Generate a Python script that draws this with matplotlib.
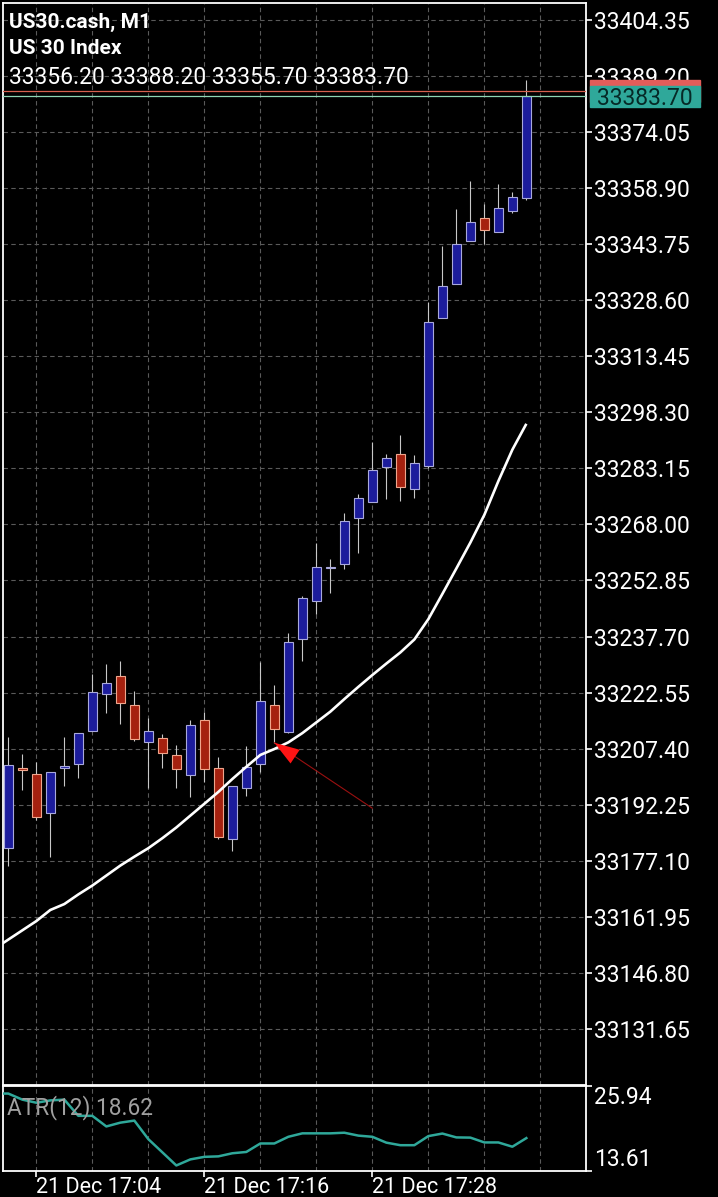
import matplotlib.pyplot as plt
from matplotlib.patches import Rectangle
from matplotlib.transforms import blended_transform_factory

plt.rcParams['font.family'] = ['Roboto', 'DejaVu Sans']

symbol = 'US30.cash, M1'
description = 'US 30 Index'

# one-minute candles, 21 Dec 17:02 .. 17:39
times = ['17:%02d' % m for m in range(2, 40)]
opens = [33180.5, 33202.2, 33200.5, 33189.9, 33202.1, 33203.2, 33212.2, 33222.1,
         33227.0, 33219.1, 33209.1, 33210.2, 33205.6, 33200.2, 33215.1, 33202.1,
         33183.1, 33196.7, 33203.2, 33219.1, 33212.0, 33237.0, 33247.4, 33256.1,
         33257.2, 33269.7, 33274.0, 33283.6, 33287.0, 33277.5, 33283.9, 33323.9,
         33332.9, 33344.7, 33350.7, 33347.1, 33352.8, 33356.2]
highs = [33210.6, 33206.0, 33203.9, 33201.0, 33210.6, 33211.6, 33227.5, 33230.3,
         33231.2, 33223.1, 33215.6, 33211.3, 33208.3, 33215.2, 33217.2, 33205.2,
         33197.3, 33208.1, 33230.9, 33224.6, 33238.6, 33248.7, 33263.1, 33258.7,
         33271.0, 33276.2, 33290.2, 33287.0, 33292.2, 33286.8, 33328.2, 33343.3,
         33353.2, 33360.8, 33354.5, 33360.0, 33357.8, 33388.2]
lows = [33175.7, 33196.2, 33188.1, 33178.2, 33197.4, 33199.4, 33212.2, 33217.1,
        33214.0, 33209.5, 33196.9, 33202.3, 33196.9, 33194.4, 33198.5, 33182.9,
        33179.8, 33194.7, 33201.2, 33208.9, 33211.7, 33231.2, 33243.8, 33249.4,
        33255.9, 33260.4, 33274.0, 33274.8, 33274.2, 33275.2, 33283.3, 33323.7,
        33332.9, 33344.7, 33343.8, 33347.1, 33352.1, 33355.7]
closes = [33202.9, 33201.6, 33189.0, 33201.0, 33202.7, 33211.6, 33222.6, 33225.1,
          33219.7, 33210.1, 33212.2, 33206.1, 33201.8, 33213.7, 33201.8, 33183.6,
          33197.3, 33202.5, 33220.3, 33212.6, 33236.2, 33248.0, 33256.4, 33256.6,
          33269.0, 33275.1, 33282.6, 33286.0, 33278.0, 33284.5, 33322.8, 33332.4,
          33343.8, 33349.7, 33347.6, 33353.4, 33356.6, 33383.7]

# indicators start one bar earlier (17:01)
ma_values = [33153.3, 33155.8, 33158.3, 33160.8, 33163.8, 33165.4, 33168.0, 33170.4,
             33173.1, 33175.8, 33178.2, 33180.5, 33183.2, 33186.1, 33189.3, 33192.5,
             33195.7, 33199.2, 33202.5, 33205.7, 33207.3, 33209.1, 33211.6, 33214.5,
             33217.4, 33220.8, 33224.1, 33227.3, 33230.4, 33233.4, 33236.9, 33242.4,
             33249.2, 33256.1, 33263.1, 33270.6, 33279.7, 33288.2, 33295.2]
atr_values = [24.77, 24.77, 23.89, 23.44, 23.78, 23.89, 21.54, 21.54, 20.00, 20.55,
              20.85, 18.16, 16.25, 14.34, 15.22, 15.59, 15.66, 16.11, 16.30, 17.53,
              17.53, 18.50, 19.00, 19.00, 19.00, 19.09, 18.67, 18.50, 17.65, 17.28,
              17.28, 18.60, 18.97, 18.41, 18.38, 17.68, 17.68, 17.06, 18.31]
atr_period = 12
atr_last = 18.62

price_ticks = [33404.35, 33389.20, 33374.05, 33358.90, 33343.75, 33328.60, 33313.45,
               33298.30, 33283.15, 33268.00, 33252.85, 33237.70, 33222.55, 33207.40,
               33192.25, 33177.10, 33161.95, 33146.80, 33131.65]
grid_times = ['17:04', '17:08', '17:12', '17:16', '17:20', '17:24', '17:28',
              '17:32', '17:36', '17:40']
label_times = ['17:04', '17:16', '17:28']
label_date = '21 Dec'
atr_ticks = [13.61, 25.94]
bid = 33383.70
ask = 33385.20

# arrow annotation (time, price)
arrow_tip = ('17:21', 33209.0)
arrow_tail = ('17:28', 33191.3)

BG = 'black'
GRID = '#5a5a5a'
BULL_FILL, BULL_EDGE = '#1c1c9c', '#a9a9dc'
BEAR_FILL, BEAR_EDGE = '#a5210f', '#f0a58c'
WICK = '#c8c8c8'
TEAL = '#2fa89a'
LABEL_SIZE = 16.5


def tpos(t):
    h, m = t.split(':')
    return int(m) - 2 + (int(h) - 17) * 60


W, H = 718, 1197
fig = plt.figure(figsize=(W / 100, H / 100), dpi=100, facecolor=BG)
ax = fig.add_axes([3 / W, 1 - 1084.5 / H, 583 / W, 1081.5 / H], facecolor=BG)
atr_ax = fig.add_axes([3 / W, 1 - 1170.5 / H, 583 / W, 85 / H], facecolor=BG)

xl = (-0.38, 41.26)
for a in (ax, atr_ax):
    a.set_xlim(*xl)
    for s in a.spines.values():
        s.set_color('white')
        s.set_linewidth(1.3)
    for t in grid_times:
        a.axvline(tpos(t), color=GRID, lw=0.8, ls=(0, (4, 3)), zorder=0)
ax.set_ylim(33116.63, 33408.93)
for p in price_ticks:
    ax.axhline(p, color=GRID, lw=0.8, ls=(0, (4, 3)), zorder=0)

# candles
xs = [tpos(t) for t in times]
for x, o, h, l, c in zip(xs, opens, highs, lows, closes):
    bull = c >= o
    ax.vlines(x, l, h, color=WICK, lw=0.8, zorder=2)
    lo, hi = min(o, c), max(o, c)
    ax.bar(x, max(hi - lo, 0.4), bottom=lo, width=0.6,
           color=BULL_FILL if bull else BEAR_FILL,
           edgecolor=BULL_EDGE if bull else BEAR_EDGE, lw=0.8, zorder=3)

ind_x = [xs[0] - 1] + xs
ax.plot(ind_x, ma_values, color='white', lw=1.9, zorder=4,
        solid_capstyle='butt')

# arrow
tip = (tpos(arrow_tip[0]), arrow_tip[1])
tail = (tpos(arrow_tail[0]), arrow_tail[1])
ax.plot([tail[0], tip[0]], [tail[1], tip[1]], color='#9a1010', lw=0.8, zorder=5)
ax.annotate('', xy=tip, xytext=tail,
            arrowprops=dict(arrowstyle='-|>,head_length=1.0,head_width=0.33',
                            mutation_scale=18, color='#ff1414', lw=0,
                            shrinkA=0, shrinkB=0), zorder=6)

# bid / ask
ax.axhline(ask, color='#d8604f', lw=0.9, zorder=5)
ax.axhline(bid, color='#8fd6b4', lw=0.9, zorder=5)
btr = blended_transform_factory(fig.transFigure, ax.transData)
box_h = 21.6 / 3.7
ax.add_patch(Rectangle((590 / W, ask - box_h / 2), 110 / W, box_h,
                       transform=btr, color='#e35d5a', clip_on=False, zorder=10))
ax.add_patch(Rectangle((590 / W, bid - box_h / 2), 110 / W, box_h,
                       transform=btr, color=TEAL, clip_on=False, zorder=11))
ax.text(645 / W, bid, '%.2f' % bid, transform=btr, ha='center', va='center_baseline',
        color='#062a27', fontsize=LABEL_SIZE, zorder=12, clip_on=False)

ax.yaxis.tick_right()
ax.set_yticks(price_ticks)
ax.set_yticklabels(['%.2f' % p for p in price_ticks])
ax.tick_params(axis='y', colors='white', labelcolor='white', length=4,
               width=1.2, pad=1.5, labelsize=LABEL_SIZE)
ax.set_xticks([])

# header
ax.text(6 / 583, 1 - 19 / 1081.5, symbol, transform=ax.transAxes, color='white',
        fontsize=15, fontweight='bold', va='center')
ax.text(6 / 583, 1 - 45 / 1081.5, description, transform=ax.transAxes, color='white',
        fontsize=15, fontweight='bold', va='center')
ax.text(6 / 583, 1 - 74 / 1081.5,
        ' '.join('%.2f' % v for v in (opens[-1], highs[-1], lows[-1], closes[-1])),
        transform=ax.transAxes, color='white', fontsize=16.5, va='center')

# ATR panel
atr_ax.plot(ind_x, atr_values, color=TEAL, lw=1.8, zorder=3)
atr_ax.set_ylim(atr_ticks[0], atr_ticks[1])
atr_ax.yaxis.tick_right()
atr_ax.set_yticks(atr_ticks)
atr_ax.set_yticklabels(['%.2f' % v for v in atr_ticks])
atr_ax.tick_params(axis='y', colors='white', labelcolor='white', length=4,
                   width=1.2, pad=1.5, labelsize=LABEL_SIZE)
tl = atr_ax.get_yticklabels()
tl[0].set_va('bottom')
tl[1].set_va('top')
atr_ax.text(4 / 583, 0.74, 'ATR(%d) %.2f' % (atr_period, atr_last),
            transform=atr_ax.transAxes, color='#a0a0a0', fontsize=16.3, va='center')
atr_ax.set_xticks([tpos(t) for t in label_times])
atr_ax.set_xticklabels(['%s %s' % (label_date, t) for t in label_times], ha='left')
atr_ax.tick_params(axis='x', colors='white', labelcolor='white', length=4,
                   width=1.2, pad=0.5, labelsize=15.5)

fig.savefig('out.png', dpi=100, facecolor=BG)
